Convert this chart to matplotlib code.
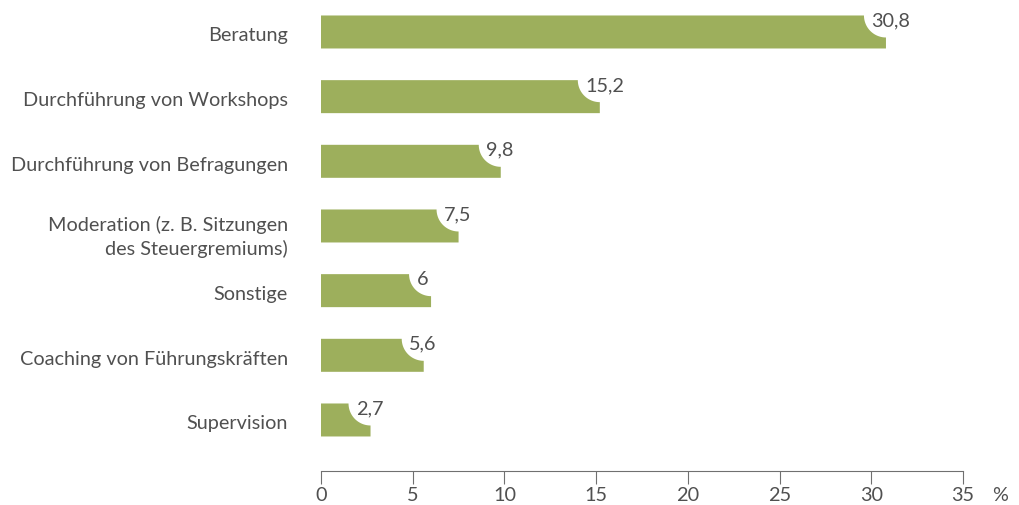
import numpy as np
import matplotlib
matplotlib.use("Agg")
import matplotlib.pyplot as plt
from matplotlib.patches import Polygon

categories = [
    "Beratung",
    "Durchführung von Workshops",
    "Durchführung von Befragungen",
    "Moderation (z. B. Sitzungen\ndes Steuergremiums)",
    "Sonstige",
    "Coaching von Führungskräften",
    "Supervision",
]
values = [30.8, 15.2, 9.8, 7.5, 6, 5.6, 2.7]
value_labels = ["30,8", "15,2", "9,8", "7,5", "6", "5,6", "2,7"]
xticks = [0, 5, 10, 15, 20, 25, 30, 35]

bar_color = "#9daf5c"
text_color = "#505050"
line_color = "#707070"
plt.rcParams["font.family"] = ["Lato", "DejaVu Sans"]
fs = 14.3

W, H = 1020, 506
fig = plt.figure(figsize=(W / 100, H / 100), dpi=100)
ax = fig.add_axes([321 / W, 34 / H, 642 / W, 472 / H])
ax.set_xlim(0, 35)
ax.set_ylim(-0.789, 6.51)

# pixel scale of the axes, used for the corner notch and label offsets
px_x = 642 / 35
px_y = 64.67
rx = 22 / px_x
ry = 22 / px_y
bh = 33 / px_y

n = len(categories)
for i, (cat, v, lab) in enumerate(zip(categories, values, value_labels)):
    yc = n - 1 - i
    top = yc + bh / 2
    bot = yc - bh / 2
    theta = np.linspace(-np.pi / 2, -np.pi, 30)
    arc = np.column_stack([v + rx * np.cos(theta), top + ry * np.sin(theta)])
    pts = np.vstack([[[0, bot], [v, bot]], arc, [[0, top]]])
    ax.add_patch(Polygon(pts, closed=True, facecolor=bar_color, edgecolor="none"))
    ax.text(v - 14.5 / px_x, top - 10 / px_y, lab, ha="left", va="baseline",
            fontsize=fs, color=text_color)
    nlines = cat.count("\n")
    base = yc - 8.4 / px_y if nlines == 0 else yc - 27.7 / px_y
    ax.text(-33 / px_x, base, cat, ha="right", va="baseline", fontsize=fs,
            color=text_color, linespacing=1.39)

ax.set_xticks(xticks)
ax.set_xticklabels([str(t) for t in xticks], fontsize=fs, color=text_color)
ax.tick_params(axis="x", direction="out", length=9.5, width=0.8, color=line_color, pad=1)
ax.set_yticks([])
for s in ["left", "right", "top"]:
    ax.spines[s].set_visible(False)
ax.spines["bottom"].set_color(line_color)
ax.spines["bottom"].set_linewidth(0.8)
fig.text(1000 / W, (H - 496) / H, "%", ha="center", va="center", fontsize=fs, color=text_color)

fig.savefig("out.png", dpi=100, facecolor="white")
